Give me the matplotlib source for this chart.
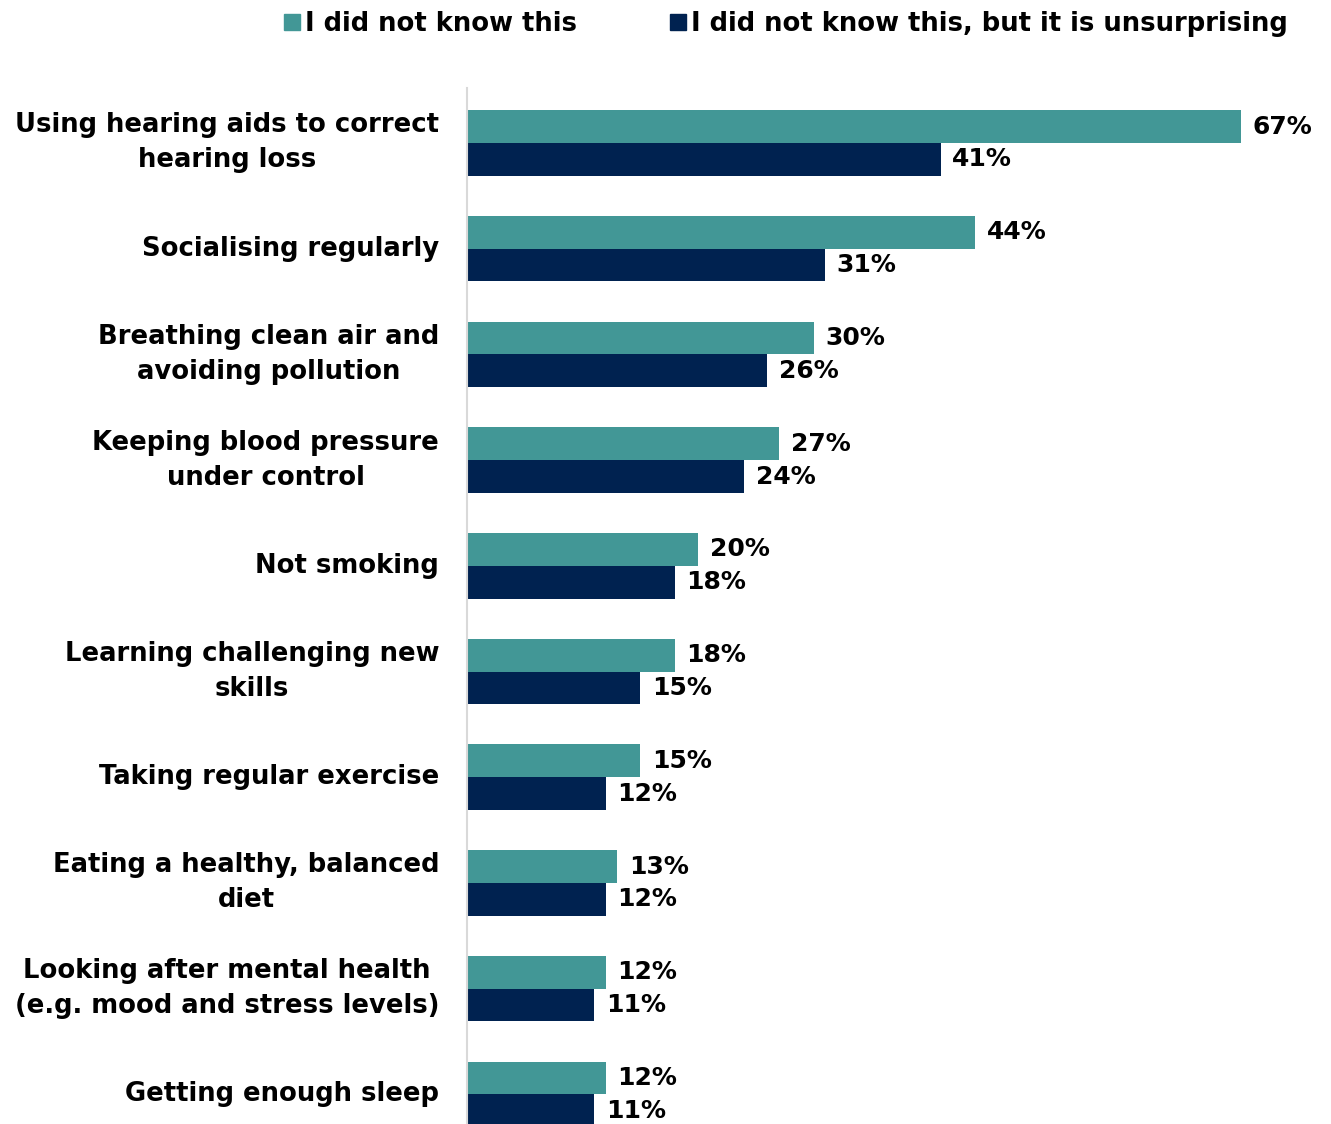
import matplotlib.pyplot as plt
import numpy as np
from matplotlib.patches import Patch

categories = [
    "Using hearing aids to correct\nhearing loss",
    "Socialising regularly",
    "Breathing clean air and\navoiding pollution",
    "Keeping blood pressure\nunder control",
    "Not smoking",
    "Learning challenging new\nskills",
    "Taking regular exercise",
    "Eating a healthy, balanced\ndiet",
    "Looking after mental health\n(e.g. mood and stress levels)",
    "Getting enough sleep",
]
did_not_know = [67, 44, 30, 27, 20, 18, 15, 13, 12, 12]
unsurprising = [41, 31, 26, 24, 18, 15, 12, 12, 11, 11]
series_names = ["I did not know this", "I did not know this, but it is unsurprising"]

teal = "#429796"
navy = "#002250"

fig = plt.figure(figsize=(13.31, 11.24), dpi=100)
ax = fig.add_axes([467 / 1331, 0, 855 / 1331, 1036 / 1124])

y = np.arange(len(categories))
h = 0.31
ax.barh(y - h / 2, did_not_know, height=h, color=teal)
ax.barh(y + h / 2, unsurprising, height=h, color=navy)

font = dict(family="DejaVu Sans", weight="bold", size=18)
for yi, v in zip(y, did_not_know):
    ax.text(v + 1.0, yi - h / 2, f"{v}%", va="center", ha="left", **font)
for yi, v in zip(y, unsurprising):
    ax.text(v + 1.0, yi + h / 2, f"{v}%", va="center", ha="left", **font)

ax.set_xlim(0, 74)
ax.set_ylim(9.28, -0.52)
ax.set_xticks([])
ax.set_yticks(y)
ax.set_yticklabels(categories, multialignment="center", linespacing=1.45,
                   family="DejaVu Sans", weight="bold", size=18.6)
for lbl in ax.get_yticklabels():
    lbl.set_verticalalignment("center")
ax.tick_params(axis="y", length=0, pad=20)
for s in ["top", "right", "bottom"]:
    ax.spines[s].set_visible(False)
ax.spines["left"].set_color("#d9d9d9")
ax.spines["left"].set_linewidth(1.5)

handles = [Patch(color=teal), Patch(color=navy)]
fig.legend(handles, series_names, loc="center", bbox_to_anchor=(786 / 1331, 1 - 24 / 1124),
           ncol=2, frameon=False, handlelength=0.6, handleheight=0.6, handletextpad=0.2,
           columnspacing=3.6, prop=dict(family="DejaVu Sans", weight="bold", size=18.6))

fig.savefig("out.png", dpi=100)
